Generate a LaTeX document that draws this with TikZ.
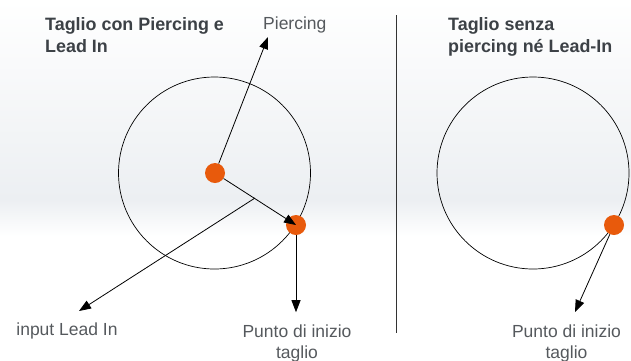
\documentclass[tikz,border=0pt]{standalone}
\usepackage{fontspec}
\setmainfont{Liberation Sans}
\usetikzlibrary{arrows.meta}
\definecolor{punto}{HTML}{E85A0C}
\definecolor{titolo}{HTML}{3C4146}
\definecolor{etich}{HTML}{55595D}
\definecolor{fascia}{HTML}{ECEFF2}
\tikzset{
  dot/.style={circle,fill=punto,minimum size=20pt,inner sep=0pt},
  freccia/.style={-{Triangle[length=12pt,width=9pt]},line width=0.8pt},
  titoletto/.style={font=\bfseries\fontsize{17.9}{22}\selectfont,text=titolo,align=left,anchor=north west,inner sep=0pt},
  etichetta/.style={font=\fontsize{17.5}{21}\selectfont,text=etich,align=center,inner sep=0pt}
}
\begin{document}
\begin{tikzpicture}[x=1pt,y=-1pt]
\useasboundingbox (0,0) rectangle (631,360);
\shade[top color=white,bottom color=fascia] (0,0) rectangle (631,200);
\shade[top color=fascia,bottom color=white] (0,200) rectangle (631,236);
\node[titoletto](t1)at(45,17.2){Taglio con Piercing e\\Lead In};
\node[titoletto](t2)at(448,17.2){Taglio senza\\piercing né Lead-In};
\draw[line width=0.8pt,black!80] (396,15) -- (396,333);
% cerchio con piercing
\draw[line width=0.7pt] (214.5,173) circle [radius=96pt];
\node[dot](p1)at(215,173){};
\node[dot](p2)at(296,225){};
\node[etichetta,anchor=base west](l1)at(263,29){Piercing};
\node[etichetta,anchor=north](l2)at(297,324.2){Punto di inizio\\taglio};
\node[etichetta,anchor=north](l3)at(67,322.2){input Lead In};
\coordinate (ptip) at (268,37);
\coordinate (li) at (255,198);
\coordinate (litip) at (79,311);
\draw[freccia] (p1) -- (ptip);
\draw[freccia] (p1) -- (p2.center);
\draw[freccia,shorten >=12pt] (p2) -- (p2 |- l2.north);
\draw[freccia] (li) -- (litip);
% cerchio senza piercing
\draw[line width=0.7pt] (533,173) circle [radius=96pt];
\node[dot](p3)at(614,225){};
\node[etichetta,anchor=north](l4)at(566.5,324.2){Punto di inizio\\taglio};
\coordinate (p3tip) at (575,312);
\draw[freccia] (p3) -- (p3tip);
\end{tikzpicture}
\end{document}
